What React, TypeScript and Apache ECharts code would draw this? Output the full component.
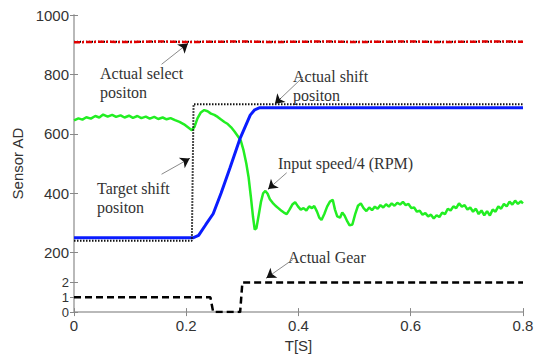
import React, { useEffect, useRef } from "react";
import * as echarts from "echarts";

// Time in seconds, values in sensor AD units
const selectActual: [number, number][] = [
  [0, 908], [0.05, 910], [0.1, 909], [0.15, 911], [0.2, 909], [0.25, 910], [0.3, 911],
  [0.35, 909], [0.4, 910], [0.45, 911], [0.5, 909], [0.55, 910], [0.6, 911], [0.65, 909],
  [0.7, 910], [0.75, 911], [0.8, 910],
];
const selectTarget: [number, number][] = [[0, 910], [0.8, 910]];

const shiftTarget: [number, number][] = [[0, 240], [0.21, 240], [0.213, 700], [0.8, 700]];

const shiftActual: [number, number][] = [
  [0, 250], [0.212, 250], [0.222, 258], [0.235, 295], [0.248, 331], [0.262, 400],
  [0.278, 486], [0.296, 585], [0.314, 663], [0.322, 681], [0.331, 688], [0.8, 688],
];

const inputSpeed: [number, number][] = [
  [0.000, 645], [0.008, 652], [0.015, 648], [0.022, 656], [0.030, 651], [0.038, 660],
  [0.045, 655], [0.052, 665], [0.060, 658], [0.068, 664], [0.075, 657], [0.083, 662],
  [0.090, 655], [0.098, 661], [0.105, 654], [0.113, 660], [0.120, 653], [0.128, 658],
  [0.135, 651], [0.143, 657], [0.150, 650], [0.158, 655], [0.165, 649], [0.172, 653],
  [0.180, 646], [0.188, 640], [0.196, 632], [0.203, 622], [0.210, 612], [0.215, 625],
  [0.220, 652], [0.226, 672], [0.232, 680], [0.238, 676], [0.244, 668], [0.250, 664],
  [0.256, 657], [0.262, 648], [0.268, 640], [0.274, 633], [0.280, 622], [0.286, 608],
  [0.292, 592], [0.297, 578], [0.302, 545], [0.307, 500], [0.311, 455], [0.315, 390],
  [0.319, 320], [0.322, 278], [0.325, 282], [0.329, 325], [0.333, 370], [0.337, 400],
  [0.341, 408], [0.345, 398], [0.349, 380], [0.354, 368], [0.359, 358], [0.364, 350],
  [0.369, 342], [0.374, 335], [0.379, 330], [0.384, 345], [0.389, 362], [0.394, 370],
  [0.399, 356], [0.404, 345], [0.409, 350], [0.414, 342], [0.419, 356], [0.424, 350],
  [0.428, 357], [0.433, 338], [0.437, 318], [0.441, 310], [0.446, 330], [0.451, 355],
  [0.456, 372], [0.461, 378], [0.465, 345], [0.469, 322], [0.474, 318], [0.478, 335],
  [0.482, 325], [0.487, 305], [0.491, 292], [0.496, 295], [0.501, 330], [0.506, 358],
  [0.511, 366], [0.516, 350], [0.521, 340], [0.526, 352], [0.531, 343], [0.536, 355],
  [0.541, 348], [0.546, 360], [0.551, 352], [0.556, 363], [0.561, 355], [0.566, 366],
  [0.571, 358], [0.576, 368], [0.581, 362], [0.586, 371], [0.591, 360], [0.596, 364],
  [0.601, 350], [0.606, 352], [0.611, 338], [0.616, 341], [0.621, 328], [0.626, 333],
  [0.631, 322], [0.636, 328], [0.641, 315], [0.646, 326], [0.651, 320], [0.656, 335],
  [0.661, 330], [0.666, 348], [0.671, 342], [0.676, 356], [0.681, 350], [0.686, 366],
  [0.691, 355], [0.696, 360], [0.701, 345], [0.706, 352], [0.711, 338], [0.716, 348],
  [0.721, 330], [0.726, 342], [0.731, 326], [0.736, 340], [0.741, 325], [0.746, 345],
  [0.751, 338], [0.756, 356], [0.761, 348], [0.766, 364], [0.771, 356], [0.776, 372],
  [0.781, 362], [0.786, 375], [0.791, 364], [0.796, 373], [0.800, 366],
];

// Gear number (0,1,2), drawn at 50 AD units per gear on the shared axis
const gear: [number, number][] = [[0, 1], [0.243, 1], [0.248, 0], [0.296, 0], [0.3, 2], [0.8, 2]];
const GEAR_SCALE = 50;

const xTicks = [0, 0.2, 0.4, 0.6, 0.8];
const yTickValues = [0, 50, 100, 200, 400, 600, 800, 1000];
const yTickLabels: Record<number, string> = {
  0: "{g|0}", 50: "{g|1}", 100: "{g|2}", 200: "200", 400: "400", 600: "600", 800: "800", 1000: "1000",
};

// Annotation arrows: [from, to] in data coords
const arrows: [[number, number], [number, number]][] = [
  [[0.156, 834], [0.203, 904]],
  [[0.156, 464], [0.206, 517]],
  [[0.408, 791], [0.358, 701]],
  [[0.379, 469], [0.346, 414]],
  [[0.390, 177], [0.343, 115]],
];

const notes = [
  { lines: ["Actual select", "positon"], x: 100, y: 73 },
  { lines: ["Target shift", "positon"], x: 97, y: 188 },
  { lines: ["Actual shift", "positon"], x: 293, y: 76 },
  { lines: ["Input speed/4 (RPM)"], x: 278, y: 163 },
  { lines: ["Actual Gear"], x: 288, y: 257 },
];

export default function App() {
  const ref = useRef<HTMLDivElement>(null);
  useEffect(() => {
    if (!ref.current) return;
    const chart = echarts.init(ref.current, null, { renderer: "svg" });
    const axisColor = "#b5b5b5";
    const labelStyle = { fontFamily: "Liberation Sans", fontSize: 15, color: "#333" };

    const markData: any[] = [];
    arrows.forEach(([a, b]) => {
      markData.push([
        { coord: a, symbol: "none", lineStyle: { color: "#8a8a8a", width: 1, type: "solid" } },
        { coord: b, symbol: "none" },
      ]);
      const k = 0.8;
      const mid = [a[0] + (b[0] - a[0]) * k, a[1] + (b[1] - a[1]) * k];
      markData.push([
        { coord: mid, symbol: "none", lineStyle: { color: "#111", width: 1, type: "solid" } },
        { coord: b, symbol: "arrow" },
      ]);
    });

    const graphics: any[] = [];
    notes.forEach((n) => {
      n.lines.forEach((t, i) => {
        graphics.push({
          type: "text",
          x: n.x,
          y: n.y + i * 19,
          silent: true,
          style: {
            text: t,
            font: "16px 'Liberation Serif'",
            fill: "#333",
            verticalAlign: "middle",
          },
        });
      });
    });

    chart.setOption({
      animation: false,
      grid: { left: 74, right: 16, top: 15, bottom: 41 },
      xAxis: [
        {
          type: "value",
          min: 0,
          max: 0.8,
          interval: 0.2,
          name: "T[S]",
          nameLocation: "middle",
          nameGap: 22,
          nameTextStyle: { ...labelStyle },
          axisLine: { show: true, lineStyle: { color: axisColor, width: 1.5 } },
          axisTick: { show: true, inside: true, length: 4, lineStyle: { color: "#888" } },
          axisLabel: {
            ...labelStyle,
            margin: 6,
            formatter: (v: number) => {
              const f = xTicks.find((t) => Math.abs(t - v) < 1e-9);
              return f === undefined ? "" : String(f);
            },
          },
          splitLine: { show: false },
        },
        {
          type: "value",
          position: "top",
          min: 0,
          max: 0.8,
          interval: 0.2,
          axisLine: { show: true, lineStyle: { color: axisColor, width: 1.5 } },
          axisTick: { show: true, inside: true, length: 4, lineStyle: { color: "#888" } },
          axisLabel: { show: false },
          splitLine: { show: false },
        },
      ],
      yAxis: [
        {
          type: "value",
          min: 0,
          max: 1000,
          name: "Sensor AD",
          nameLocation: "middle",
          nameGap: 46,
          nameTextStyle: { ...labelStyle, fontSize: 15 },
          axisLine: { show: true, lineStyle: { color: axisColor, width: 1.5 } },
          axisTick: { show: true, inside: true, length: 4, customValues: yTickValues, lineStyle: { color: "#888" } },
          axisLabel: {
            ...labelStyle,
            margin: 5,
            customValues: yTickValues,
            formatter: (v: number) => yTickLabels[v] ?? "",
            rich: {
              g: { fontFamily: "Liberation Sans", fontSize: 13, lineHeight: 13, color: "#333" },
            },
          },
          splitLine: { show: false },
        },
        {
          type: "value",
          position: "right",
          min: 0,
          max: 1000,
          axisLine: { show: true, lineStyle: { color: axisColor, width: 1.5 } },
          axisTick: { show: true, inside: true, length: 4, customValues: yTickValues, lineStyle: { color: "#888" } },
          axisLabel: { show: false, customValues: yTickValues },
          splitLine: { show: false },
        },
      ],
      graphic: graphics,
      series: [
        {
          type: "line",
          data: selectTarget,
          showSymbol: false,
          lineStyle: { color: "#000", width: 2, type: [1, 2] },
          silent: true,
        },
        {
          type: "line",
          data: selectActual,
          showSymbol: false,
          lineStyle: { color: "#e00000", width: 2.5, type: [6, 2, 2, 2] },
          silent: true,
        },
        {
          type: "line",
          data: inputSpeed,
          showSymbol: false,
          lineStyle: { color: "#22ee22", width: 2.5 },
          silent: true,
        },
        {
          type: "line",
          data: shiftActual,
          showSymbol: false,
          lineStyle: { color: "#0a1cff", width: 3 },
          silent: true,
        },
        {
          type: "line",
          data: shiftTarget,
          showSymbol: false,
          lineStyle: { color: "#111", width: 2, type: [1.5, 1.5] },
          silent: true,
        },
        {
          type: "line",
          data: gear.map(([t, g]) => [t, g * GEAR_SCALE]),
          showSymbol: false,
          lineStyle: { color: "#000", width: 2.5, type: [7, 4] },
          silent: true,
          markLine: {
            silent: true,
            symbolSize: 9,
            label: { show: false },
            data: markData,
          },
        },
      ],
    });
    return () => chart.dispose();
  }, []);
  return (
    <div
      ref={ref}
      style={{ position: "fixed", left: 0, top: 0, width: 539, height: 358, background: "#fff" }}
    />
  );
}
